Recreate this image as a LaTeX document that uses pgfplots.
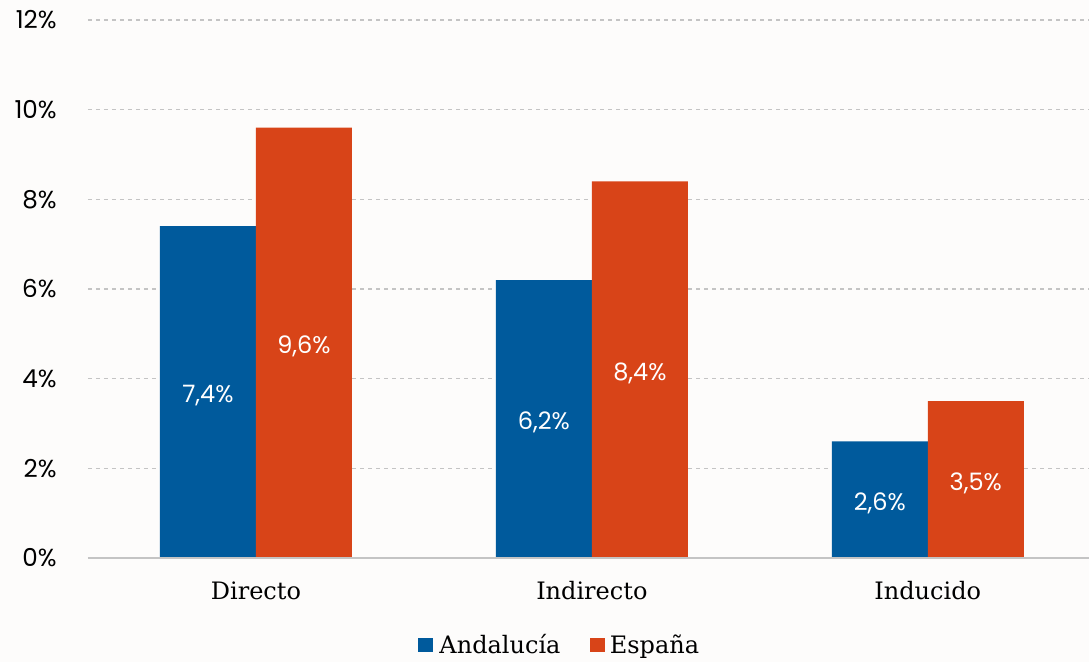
\documentclass[border=0pt]{standalone}
\usepackage{pgfplots}
\pgfplotsset{compat=1.18}
\usepackage{fontspec}
\setmainfont{Poppins}
\newfontfamily\slab{DejaVu Serif}
\definecolor{andblue}{HTML}{005A9C}
\definecolor{esporange}{HTML}{D84418}
\definecolor{bgc}{HTML}{FDFCFB}
\definecolor{gridc}{HTML}{C4C4C4}
\begin{document}
\begin{tikzpicture}
\path[use as bounding box, fill=bgc] (0,0) rectangle (816.75pt,496.5pt);
\begin{axis}[
  at={(66pt,78pt)}, anchor=south west,
  scale only axis, width=750.75pt, height=403.5pt,
  xmin=-0.5, xmax=2.48, ymin=0, ymax=12,
  axis line style={draw=none},
  ybar=0pt, bar width=72pt,
  ytick={0,2,4,6,8,10,12},
  yticklabels={0\%,2\%,4\%,6\%,8\%,10\%,12\%},
  xtick={0,1,2},
  xticklabels={Directo,Indirecto,Inducido},
  ymajorgrids, major grid style={gridc, dashed, line width=0.9pt},
  major tick length=0pt, tick style={draw=none},
  yticklabel style={font=\fontsize{18.5}{21}\selectfont, anchor=east, xshift=-20pt},
  xticklabel style={font=\slab\fontsize{18}{21}\selectfont, anchor=north, yshift=-14pt},
  visualization depends on={rawy \as \rawy},
  nodes near coords={\pgfmathprintnumber[use comma, fixed, fixed zerofill, precision=1, assume math mode=true]{\pgfplotspointmeta}\%},
  every node near coord/.append style={anchor=center, text=white, font=\fontsize{18}{21}\selectfont, shift={(axis direction cs:0,-\rawy/2)}, yshift=-2.5pt},
  legend style={at={(0.4715,-0.1617)}, anchor=center, draw=none, fill=none, legend columns=2, font=\slab\fontsize{18}{21}\selectfont, /tikz/every even column/.append style={column sep=20pt}},
  legend image code/.code={\fill (0pt,-5.5pt) rectangle (11pt,5.5pt);},
]
\addplot[fill=andblue, draw=none] coordinates {(0,7.4) (1,6.2) (2,2.6)};
\addplot[fill=esporange, draw=none] coordinates {(0,9.6) (1,8.4) (2,3.5)};
\legend{\hspace{3pt}Andalucía, \hspace{2pt}España}
\draw[gridc, line width=0.9pt] (axis cs:-0.5,0) -- (axis cs:2.48,0);
\end{axis}
\end{tikzpicture}
\end{document}
